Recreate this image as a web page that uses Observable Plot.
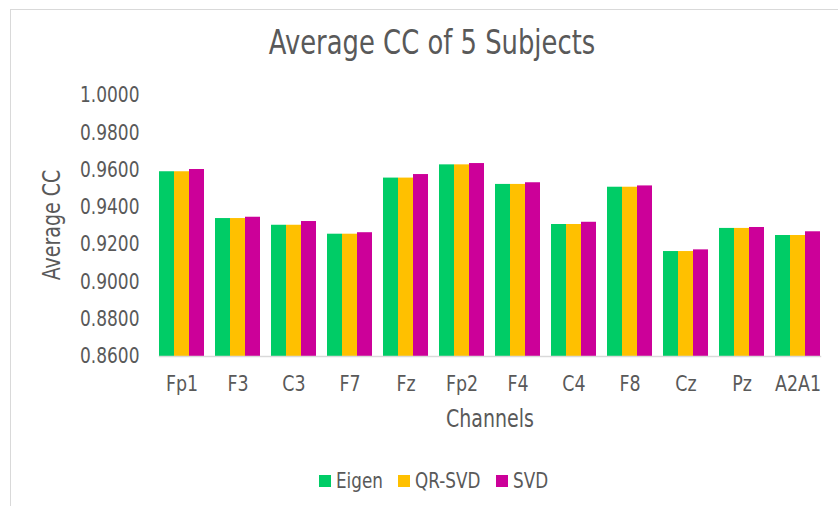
<!DOCTYPE html>
<html>
<head>
<meta charset="utf-8">
<script src="https://cdn.jsdelivr.net/npm/d3@7"></script>
<script src="https://cdn.jsdelivr.net/npm/@observablehq/plot@0.6"></script>
<style>
  html, body { margin: 0; padding: 0; background: #fff; }
  #wrap { position: relative; width: 838px; height: 506px; overflow: hidden; background: #fff;
    font-family: "DejaVu Sans", sans-serif; color: #595959; }
  #wrap svg.chart { position: absolute; left: 0; top: 0; }
  .ov { position: absolute; white-space: nowrap; line-height: 1; }
  #title { left: 432px; top: 25px; font-size: 34px; transform: translateX(-50%) scaleX(0.76); }
  #xlab { left: 490px; top: 405.5px; font-size: 25px; transform: translateX(-50%) scaleX(0.76); }
  #ylab { left: 51px; top: 225px; font-size: 25px; transform: translate(-50%, -50%) rotate(-90deg) scaleX(0.76); }
  #border { position: absolute; left: 10px; top: 9px; width: 900px; height: 600px; border: 1px solid #d9d9d9; pointer-events: none; }
  #legend { position: absolute; left: 319px; top: 464.5px; height: 33px; display: flex; align-items: center;
    font-size: 21px; white-space: nowrap; }
  #legend .item { display: inline-flex; align-items: center; margin-right: 16px; }
  #legend .sw { display: inline-block; width: 11.5px; height: 11.5px; margin-right: 5px; }
  #legend .lab { display: inline-block; transform-origin: 0 50%; transform: scaleX(0.8); }
</style>
</head>
<body>
<div id="wrap">
  <div id="border"></div>
  <div class="ov" id="title">Average CC of 5 Subjects</div>
  <div class="ov" id="ylab">Average CC</div>
  <div class="ov" id="xlab">Channels</div>
  <div id="legend"></div>
</div>
<script>
const channels = ["Fp1","F3","C3","F7","Fz","Fp2","F4","C4","F8","Cz","Pz","A2A1"];
const series = ["Eigen","QR-SVD","SVD"];
const eigen  = [0.9591, 0.9340, 0.9304, 0.9256, 0.9557, 0.9628, 0.9523, 0.9308, 0.9508, 0.9163, 0.9287, 0.9249];
const qrsvd  = [0.9591, 0.9340, 0.9304, 0.9256, 0.9557, 0.9628, 0.9523, 0.9308, 0.9508, 0.9163, 0.9287, 0.9249];
const svd    = [0.9603, 0.9347, 0.9324, 0.9264, 0.9576, 0.9635, 0.9532, 0.9320, 0.9515, 0.9172, 0.9292, 0.9269];
const yTicks = [0.86, 0.88, 0.90, 0.92, 0.94, 0.96, 0.98, 1.00];
const colors = ["#00CC66", "#FFC000", "#CC0099"];
const yBase = 0.86;

const seriesValues = [eigen, qrsvd, svd];
const rows = [];
channels.forEach((c, i) => series.forEach((s, j) => rows.push({channel: c, series: s, value: seriesValues[j][i]})));

const chart = Plot.plot({
  width: 838,
  height: 506,
  marginTop: 95,
  marginBottom: 150,
  marginLeft: 153,
  marginRight: 13,
  className: "chart",
  style: {
    fontFamily: '"DejaVu Sans", sans-serif',
    fontSize: "21px",
    color: "#595959",
    background: "transparent",
    overflow: "visible"
  },
  y: {domain: [yBase, 1.0], ticks: yTicks, tickFormat: ".4f", tickSize: 0, tickPadding: 20, label: null},
  fx: {domain: channels, paddingInner: 0.2, paddingOuter: 0.1, label: null, tickSize: 0, tickPadding: 20, axis: "bottom"},
  x: {domain: series, padding: 0, axis: null},
  color: {domain: series, range: colors},
  marks: [
    Plot.barY(rows, {fx: "channel", x: "series", y1: yBase, y2: "value", fill: "series"}),
    Plot.frame({anchor: "bottom", stroke: "#d9d9d9", strokeWidth: 1.5, facet: "super"})
  ]
});
chart.classList.add("chart");
document.getElementById("wrap").insertBefore(chart, document.getElementById("border"));

// narrow the tick label glyphs to mimic the condensed face of the original
function squeeze(selector, k) {
  chart.querySelectorAll(selector).forEach(t => {
    const w = t.getComputedTextLength();
    t.setAttribute("textLength", (w * k).toFixed(2));
    t.setAttribute("lengthAdjust", "spacingAndGlyphs");
  });
}
squeeze('g[aria-label="y-axis tick label"] text', 0.81);
squeeze('g[aria-label="fx-axis tick label"] text', 0.83);

// legend built from the chart's own color scale
const cs = chart.scale("color");
const legendEl = document.getElementById("legend");
cs.domain.forEach((name, i) => {
  const item = document.createElement("span");
  item.className = "item";
  const sw = document.createElement("span");
  sw.className = "sw";
  sw.style.background = cs.range[i];
  const lab = document.createElement("span");
  lab.className = "lab";
  lab.textContent = name;
  item.appendChild(sw);
  item.appendChild(lab);
  legendEl.appendChild(item);
  const w = lab.getBoundingClientRect().width / 0.8;
  lab.style.marginRight = (-w * 0.2).toFixed(2) + "px";
});
</script>
</body>
</html>
